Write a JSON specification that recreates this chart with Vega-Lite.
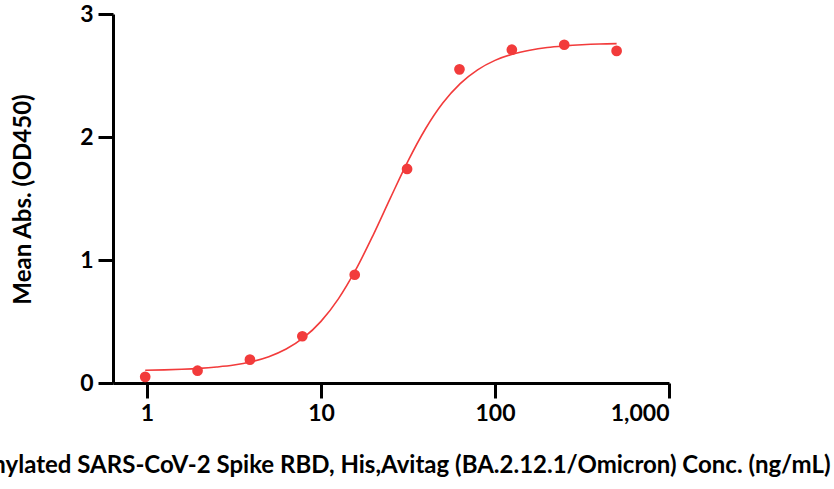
{
  "$schema": "https://vega.github.io/schema/vega-lite/v6.json",
  "autosize": {"type": "none"},
  "width": 556,
  "height": 369,
  "padding": {"left": 113, "top": 14, "right": 165, "bottom": 106},
  "background": "white",
  "config": {
    "view": {"stroke": null},
    "font": "Lato",
    "axis": {
      "grid": false,
      "domainColor": "black",
      "domainWidth": 3,
      "tickColor": "black",
      "tickWidth": 3,
      "tickSize": 15,
      "labelFont": "Lato",
      "labelFontWeight": "bold",
      "labelFontSize": 23,
      "labelColor": "black",
      "titleFont": "Lato",
      "titleFontWeight": "bold",
      "titleFontSize": 24,
      "titleColor": "black"
    }
  },
  "datasets": {
    "points": [
      {"conc": 0.977, "od": 0.05},
      {"conc": 1.953, "od": 0.10},
      {"conc": 3.906, "od": 0.19},
      {"conc": 7.813, "od": 0.38},
      {"conc": 15.63, "od": 0.88},
      {"conc": 31.25, "od": 1.74},
      {"conc": 62.5, "od": 2.55},
      {"conc": 125, "od": 2.71},
      {"conc": 250, "od": 2.75},
      {"conc": 500, "od": 2.70}
    ],
    "fit": [
      {"conc": 0.977, "od": 0.104},
      {"conc": 1.259, "od": 0.107},
      {"conc": 1.585, "od": 0.112},
      {"conc": 1.995, "od": 0.119},
      {"conc": 2.512, "od": 0.130},
      {"conc": 3.162, "od": 0.146},
      {"conc": 3.981, "od": 0.173},
      {"conc": 5.012, "od": 0.214},
      {"conc": 6.31, "od": 0.276},
      {"conc": 7.943, "od": 0.368},
      {"conc": 10, "od": 0.501},
      {"conc": 12.59, "od": 0.684},
      {"conc": 15.85, "od": 0.921},
      {"conc": 19.95, "od": 1.203},
      {"conc": 25.12, "od": 1.507},
      {"conc": 31.62, "od": 1.804},
      {"conc": 39.81, "od": 2.065},
      {"conc": 50.12, "od": 2.276},
      {"conc": 63.1, "od": 2.434},
      {"conc": 79.43, "od": 2.546},
      {"conc": 100, "od": 2.623},
      {"conc": 125.9, "od": 2.673},
      {"conc": 158.5, "od": 2.706},
      {"conc": 199.5, "od": 2.728},
      {"conc": 251.2, "od": 2.741},
      {"conc": 316.2, "od": 2.750},
      {"conc": 398.1, "od": 2.756},
      {"conc": 500, "od": 2.759}
    ]
  },
  "encoding": {
    "x": {
      "field": "conc",
      "type": "quantitative",
      "scale": {"type": "log", "domain": [0.638, 1000], "nice": false, "zero": false},
      "axis": {
        "values": [1, 10, 100, 1000],
        "format": ",",
        "labelPadding": 4,
        "title": "Biotinylated SARS-CoV-2 Spike RBD, His,Avitag (BA.2.12.1/Omicron) Conc. (ng/mL)",
        "titleX": 717,
        "titleY": 82,
        "titleAlign": "right",
        "titleBaseline": "middle"
      }
    },
    "y": {
      "field": "od",
      "type": "quantitative",
      "scale": {"domain": [0, 3], "nice": false, "zero": true},
      "axis": {
        "values": [0, 1, 2, 3],
        "labelPadding": 5,
        "title": "Mean Abs. (OD450)",
        "titleX": -90,
        "titleY": 185,
        "titleAngle": 270,
        "titleAlign": "center",
        "titleBaseline": "middle"
      }
    }
  },
  "layer": [
    {
      "data": {"name": "fit"},
      "mark": {"type": "line", "color": "#F23B3B", "strokeWidth": 1.6, "interpolate": "monotone"}
    },
    {
      "data": {"name": "points"},
      "mark": {"type": "circle", "color": "#F23B3B", "opacity": 1, "size": 115}
    },
    {
      "data": {"values": [{"label": "EC50=23.75 ng/mL"}]},
      "mark": {"type": "text", "align": "left", "baseline": "middle", "font": "Lato", "fontSize": 22, "color": "black"},
      "encoding": {
        "x": {"datum": 272},
        "y": {"datum": 1.557},
        "text": {"field": "label"}
      }
    }
  ]
}
